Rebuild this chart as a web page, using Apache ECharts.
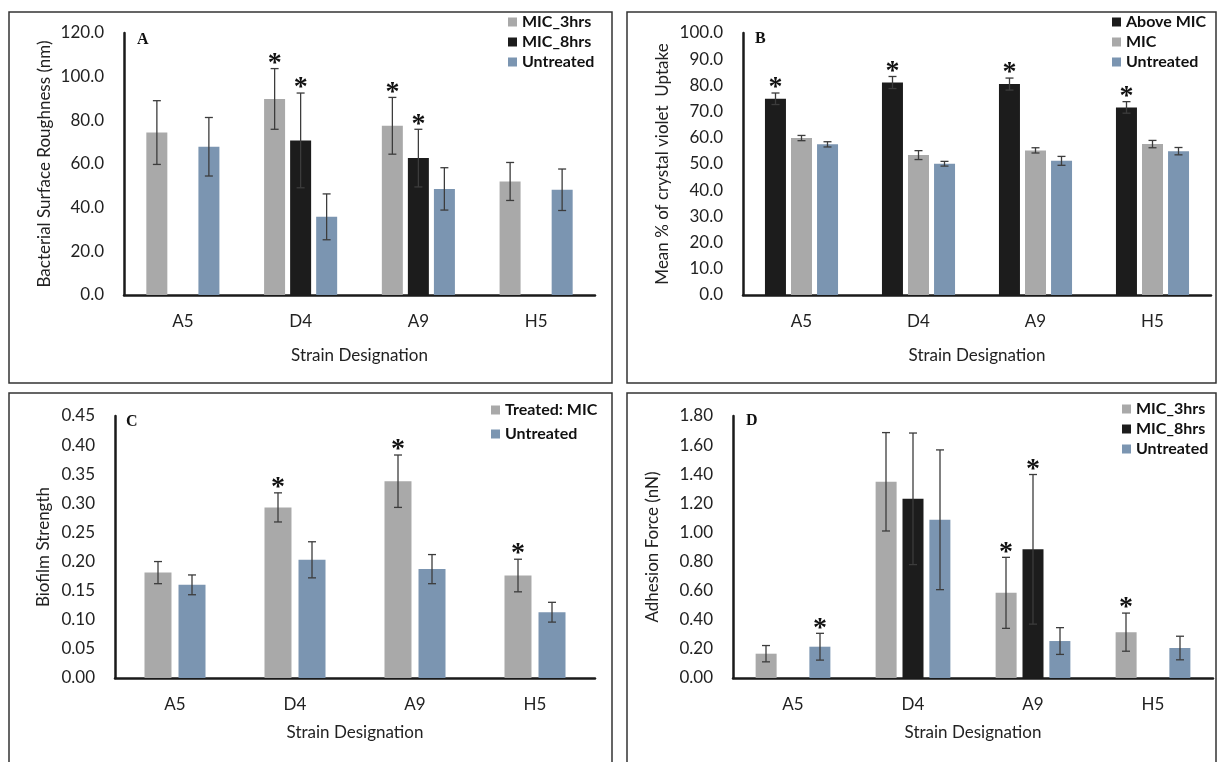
<!DOCTYPE html>
<html>
<head>
<meta charset="utf-8">
<script src="https://cdn.jsdelivr.net/npm/echarts@6/dist/echarts.min.js"></script>
<style>
html, body { margin: 0; padding: 0; background: #fff; }
#main { width: 1217px; height: 762px; }
</style>
</head>
<body>
<div id="main"></div>
<script>
var categories = ['A5', 'D4', 'A9', 'H5'];

// A - bacterial surface roughness (nm)
var roughMIC3 = [74.4, 89.8, 77.5, 52.0];
var roughMIC3Err = [14.6, 13.9, 13.0, 8.7];
var roughMIC3Star = [0, 1, 1, 0];
var roughMIC8 = [null, 70.8, 62.7, null];
var roughMIC8Err = [null, 21.7, 13.2, null];
var roughMIC8Star = [0, 1, 1, 0];
var roughUntreated = [67.9, 35.8, 48.6, 48.2];
var roughUntreatedErr = [13.4, 10.5, 9.7, 9.5];
var roughUntreatedStar = [0, 0, 0, 0];

// B - mean % of crystal violet uptake
var cvAbove = [74.9, 81.1, 80.5, 71.6];
var cvAboveErr = [2.2, 2.3, 2.3, 2.2];
var cvAboveStar = [1, 1, 1, 1];
var cvMIC = [59.9, 53.4, 55.2, 57.6];
var cvMICErr = [1.0, 1.7, 1.0, 1.4];
var cvMICStar = [0, 0, 0, 0];
var cvUntreated = [57.5, 50.1, 51.2, 54.9];
var cvUntreatedErr = [1.0, 0.9, 1.7, 1.4];
var cvUntreatedStar = [0, 0, 0, 0];

// C - biofilm strength
var bfMIC = [0.181, 0.293, 0.338, 0.176];
var bfMICErr = [0.019, 0.025, 0.045, 0.028];
var bfMICStar = [0, 1, 1, 1];
var bfUntreated = [0.160, 0.203, 0.187, 0.113];
var bfUntreatedErr = [0.017, 0.031, 0.025, 0.017];
var bfUntreatedStar = [0, 0, 0, 0];

// D - adhesion force (nN)
var adMIC3 = [0.167, 1.348, 0.585, 0.315];
var adMIC3Err = [0.056, 0.338, 0.244, 0.131];
var adMIC3Star = [0, 0, 1, 1];
var adMIC8 = [null, 1.231, 0.884, null];
var adMIC8Err = [null, 0.452, 0.514, null];
var adMIC8Star = [0, 0, 1, 0];
var adUntreated = [0.215, 1.087, 0.254, 0.206];
var adUntreatedErr = [0.092, 0.480, 0.092, 0.081];
var adUntreatedStar = [1, 0, 0, 0];

var GRAY = '#a9a9a9', BLACK = '#1c1c1c', BLUE = '#7b95b1';
var FONT = 'Lato';
var TXT = '#222';

var myChart = echarts.init(document.getElementById('main'));

// 误差线 + 星号
function errSeries(idx, name, vals, errs, stars, offset) {
    var data = [];
    vals.forEach(function (v, i) {
        if (v != null) data.push([i, v, errs[i], stars[i]]);
    });
    return {
        type: 'custom',
        name: name,
        xAxisIndex: idx,
        yAxisIndex: idx,
        z: 5,
        silent: true,
        data: data,
        renderItem: function (params, api) {
            var c = api.value(0), v = api.value(1), e = api.value(2);
            var hi = api.coord([c, v + e]);
            var lo = api.coord([c, v - e]);
            var x = hi[0] + offset;
            var ls = { stroke: '#3c3c3c', lineWidth: 1.3 };
            var children = [
                { type: 'line', shape: { x1: x, y1: hi[1], x2: x, y2: lo[1] }, style: ls },
                { type: 'line', shape: { x1: x - 4, y1: hi[1], x2: x + 4, y2: hi[1] }, style: ls },
                { type: 'line', shape: { x1: x - 4, y1: lo[1], x2: x + 4, y2: lo[1] }, style: ls }
            ];
            if (api.value(3)) {
                children.push({
                    type: 'text',
                    x: x, y: hi[1] - 5,
                    style: {
                        text: '*', fill: '#111',
                        font: 'bold 28px "Liberation Serif"',
                        align: 'center', verticalAlign: 'middle'
                    }
                });
            }
            return { type: 'group', children: children };
        }
    };
}

function barSeries(idx, name, vals, color, bw, gap) {
    return {
        type: 'bar', name: name,
        xAxisIndex: idx, yAxisIndex: idx,
        data: vals, barWidth: bw, barGap: gap,
        itemStyle: { color: color },
        silent: true
    };
}

function xAxis(idx, nameGap) {
    return {
        gridIndex: idx, type: 'category', data: categories,
        axisLine: { show: true, lineStyle: { color: '#1a1a1a', width: 2.5 } },
        axisTick: { show: false },
        axisLabel: { color: TXT, fontFamily: FONT, fontSize: 17, margin: 18 },
        name: 'Strain Designation', nameLocation: 'middle', nameGap: nameGap,
        nameTextStyle: { color: TXT, fontFamily: FONT, fontSize: 17 }
    };
}

function yAxis(idx, name, max, interval, digits, nameGap) {
    return {
        gridIndex: idx, type: 'value', min: 0, max: max, interval: interval,
        axisLine: { show: true, lineStyle: { color: '#1a1a1a', width: 2.5 } },
        axisTick: { show: false },
        splitLine: { show: false },
        axisLabel: {
            color: TXT, fontFamily: FONT, fontSize: 17, margin: 20,
            formatter: function (v) { return v.toFixed(digits); }
        },
        name: name, nameLocation: 'middle', nameGap: nameGap,
        nameTextStyle: { color: TXT, fontFamily: FONT, fontSize: 17 }
    };
}

function legend(left, top, names, gap) {
    return {
        orient: 'vertical', left: left, top: top, padding: 0,
        icon: 'rect', itemWidth: 9, itemHeight: 9, itemGap: gap, itemTextGap: 3,
        selectedMode: false,
        data: names,
        textStyle: { color: '#111', fontFamily: FONT, fontWeight: 'bold', fontSize: 16, lineHeight: 16 }
    };
}

function panelTitle(text, left, top) {
    return {
        text: text, left: left, top: top, padding: 0,
        textStyle: { fontFamily: 'Liberation Serif', fontWeight: 'bold', fontSize: 16, color: '#111' }
    };
}

function border(x, y, w, h) {
    return {
        type: 'rect', shape: { x: x, y: y, width: w, height: h },
        style: { fill: 'none', stroke: '#333', lineWidth: 1.5 }, silent: true
    };
}

var option = {
    animation: false,
    title: [
        panelTitle('A', 137, 32),
        panelTitle('B', 755, 31),
        panelTitle('C', 126, 414),
        panelTitle('D', 746, 413)
    ],
    legend: [
        legend(508, 14, ['MIC_3hrs', 'MIC_8hrs', 'Untreated'], 4),
        legend(1112, 14, ['Above MIC', 'MIC', 'Untreated'], 4),
        legend(491, 402, ['Treated: MIC', 'Untreated'], 8),
        legend(1122, 401, ['MIC_3hrs', 'MIC_8hrs', 'Untreated'], 4)
    ],
    graphic: [
        border(9, 12, 603, 371),
        border(627, 12, 589, 371),
        border(9, 393, 603, 380),
        border(627, 393, 589, 380)
    ],
    grid: [
        { left: 124, top: 33, width: 471, height: 262 },
        { left: 743, top: 33, width: 468, height: 262 },
        { left: 115, top: 416, width: 480, height: 262 },
        { left: 733, top: 416, width: 480, height: 262 }
    ],
    xAxis: [xAxis(0, 52), xAxis(1, 52), xAxis(2, 46), xAxis(3, 46)],
    yAxis: [
        yAxis(0, 'Bacterial Surface Roughness (nm)', 120, 20, 1, 71),
        yAxis(1, 'Mean % of crystal violet  Uptake', 100, 10, 1, 72),
        yAxis(2, 'Biofilm Strength', 0.45, 0.05, 2, 63),
        yAxis(3, 'Adhesion Force (nN)', 1.8, 0.2, 2, 72)
    ],
    series: [
        barSeries(0, 'MIC_3hrs', roughMIC3, GRAY, 21, '24%'),
        barSeries(0, 'MIC_8hrs', roughMIC8, BLACK, 21, '24%'),
        barSeries(0, 'Untreated', roughUntreated, BLUE, 21, '24%'),
        errSeries(0, 'eA0', roughMIC3, roughMIC3Err, roughMIC3Star, -26),
        errSeries(0, 'eA1', roughMIC8, roughMIC8Err, roughMIC8Star, 0),
        errSeries(0, 'eA2', roughUntreated, roughUntreatedErr, roughUntreatedStar, 26),

        barSeries(1, 'Above MIC', cvAbove, BLACK, 21, '24%'),
        barSeries(1, 'MIC', cvMIC, GRAY, 21, '24%'),
        barSeries(1, 'Untreated', cvUntreated, BLUE, 21, '24%'),
        errSeries(1, 'eB0', cvAbove, cvAboveErr, cvAboveStar, -26),
        errSeries(1, 'eB1', cvMIC, cvMICErr, cvMICStar, 0),
        errSeries(1, 'eB2', cvUntreated, cvUntreatedErr, cvUntreatedStar, 26),

        barSeries(2, 'Treated: MIC', bfMIC, GRAY, 27, '26%'),
        barSeries(2, 'Untreated', bfUntreated, BLUE, 27, '26%'),
        errSeries(2, 'eC0', bfMIC, bfMICErr, bfMICStar, -17),
        errSeries(2, 'eC1', bfUntreated, bfUntreatedErr, bfUntreatedStar, 17),

        barSeries(3, 'MIC_3hrs', adMIC3, GRAY, 21, '28%'),
        barSeries(3, 'MIC_8hrs', adMIC8, BLACK, 21, '28%'),
        barSeries(3, 'Untreated', adUntreated, BLUE, 21, '28%'),
        errSeries(3, 'eD0', adMIC3, adMIC3Err, adMIC3Star, -27),
        errSeries(3, 'eD1', adMIC8, adMIC8Err, adMIC8Star, 0),
        errSeries(3, 'eD2', adUntreated, adUntreatedErr, adUntreatedStar, 27)
    ]
};

myChart.setOption(option);
</script>
</body>
</html>
